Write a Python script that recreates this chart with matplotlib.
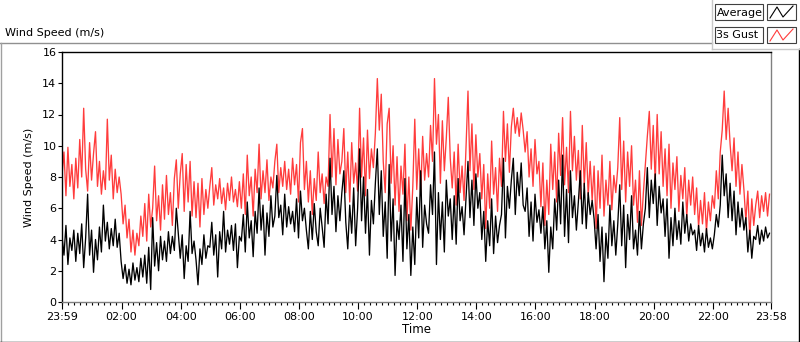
import numpy as np
import pandas as pd
import matplotlib
matplotlib.use("Agg")
import matplotlib.pyplot as plt
import matplotlib.dates as mdates
from matplotlib.patches import Rectangle
from matplotlib.lines import Line2D

# 3s gust (m/s), one reading every 4 minutes from 23:59
gust = [
    8.1, 9.6, 6.8, 9.9, 7.4, 8.8, 6.6,
    9.2, 7.3, 10.4, 8.0, 12.4, 8.5, 7.1, 10.2, 7.8, 9.5, 10.9, 7.4,
    9.0, 6.9, 8.4, 7.2, 11.7, 7.8, 9.4, 6.6, 8.5, 7.0, 8.0,
    6.9, 5.0, 6.2, 4.1, 5.3, 3.2, 4.6, 3.0, 4.4, 3.6, 5.5,
    4.2, 6.3, 3.9, 6.9, 4.8, 6.0,
    8.7, 5.2, 6.8, 4.6, 7.5, 5.3, 8.1, 5.6, 7.0, 4.9, 7.9, 9.1, 6.0,
    8.2, 9.5, 5.8, 8.8, 6.4, 9.0, 5.5, 7.7,
    5.4, 7.6, 4.8, 7.9, 5.6, 7.2, 6.0,
    7.4, 8.6, 6.2, 7.5, 6.6, 7.9, 6.3, 7.3, 5.9, 7.6, 6.5, 8.0, 6.4, 7.2, 6.1, 7.7,
    6.0, 8.2, 5.6, 9.4, 6.8, 8.0, 5.5, 8.5, 7.0, 10.1,
    6.6, 8.4, 7.0, 9.1, 6.5, 8.0, 7.3, 9.0, 10.1,
    7.0, 8.6, 7.4, 9.0, 7.2, 8.5, 6.9, 9.2,
    7.5, 8.8, 6.4, 10.2, 11.1, 7.2, 9.0,
    6.4, 8.4, 5.6, 7.9, 6.5, 9.6, 7.0, 8.2, 6.3, 8.0, 7.4,
    12.0, 8.0, 11.1, 7.5, 10.4, 8.2,
    9.0, 11.1, 7.0, 9.6, 6.4, 10.2, 7.6, 8.9,
    7.1, 12.4, 8.0, 10.5, 6.8, 11.0, 7.9, 9.8, 8.6,
    10.8, 14.3, 11.0, 13.3,
    9.0, 7.0, 11.4, 12.4, 7.6, 10.0, 6.2, 9.3,
    5.8, 8.7, 6.9, 10.1, 5.2, 8.0, 4.6, 7.4,
    11.7, 7.2, 9.8, 6.8, 10.6, 7.8, 9.5,
    8.0, 11.3, 9.0, 14.3, 10.1, 12.0, 7.6, 11.6, 8.4, 10.5, 13.1, 9.2,
    7.3, 9.6, 6.2, 10.1, 7.0, 8.7, 6.5,
    9.9, 13.5, 8.4, 11.4, 7.2, 10.7, 8.0, 9.5,
    6.6, 8.8, 4.7, 8.2, 6.0, 10.3, 6.9, 8.6, 5.8, 9.2,
    7.4, 12.2, 9.0, 11.4, 8.3,
    11.2, 12.4, 10.8, 11.8, 10.6, 12.1, 11.0,
    9.6, 10.9, 8.0, 9.8, 7.4, 10.4, 8.2, 9.0,
    6.1, 8.9, 4.9, 7.8, 5.6, 10.1,
    7.2, 9.6, 6.4, 10.8, 8.1, 11.8, 7.5, 9.9, 7.0, 12.2, 8.4, 10.6, 7.8,
    9.7, 6.6, 11.3, 7.4, 10.2, 6.8, 9.0, 6.5, 8.7,
    4.7, 8.4, 6.0, 9.4, 5.5, 7.8, 6.2, 9.0, 5.9, 8.1, 7.0,
    8.6, 11.8, 7.2, 10.3, 6.4, 9.6, 7.4, 10.0, 6.2,
    7.8, 5.1, 8.4, 4.9, 7.0,
    8.8, 10.6, 12.2, 8.5, 11.3, 7.6, 12.0, 8.2, 10.9, 7.4,
    9.8, 6.8, 10.1, 6.0, 8.9, 7.2, 9.3, 5.8, 8.1, 6.6, 8.6, 5.4, 7.8, 6.2, 8.0,
    5.6, 7.3, 4.8, 6.5, 5.0, 7.0, 4.5, 6.4, 5.2, 6.8,
    6.0, 8.4, 6.6, 9.6,
    11.0, 13.5, 10.4, 12.4, 10.1,
    8.4, 10.5, 7.4, 9.6, 6.9, 8.8, 7.2,
    5.2, 7.1, 4.1, 6.6, 4.9,
    6.2, 7.1, 5.4, 6.8, 5.8, 7.0, 5.5, 6.9,
]

# average wind speed (m/s), same timestamps
average = [
    4.2, 3.0, 4.9, 2.4, 4.1, 3.3, 4.6,
    2.6, 4.4, 3.1, 5.0, 2.2, 4.1, 6.9, 3.0, 4.6, 1.9, 4.0, 2.7,
    4.8, 3.2, 6.2, 3.9, 5.1, 3.4, 4.7, 3.6, 5.3, 3.5, 4.4,
    2.6, 1.5, 2.4, 1.2, 2.1, 1.1, 2.5, 1.4, 2.2, 1.3, 2.8,
    1.6, 3.0, 1.2, 3.5, 0.8, 5.4,
    2.3, 3.8, 2.0, 4.2, 2.7, 3.9, 2.6, 4.5, 3.1, 4.2, 3.3, 6.0, 4.4,
    2.8, 4.3, 1.5, 3.6, 2.6, 5.8, 3.1, 3.9,
    2.7, 1.1, 3.4, 2.4, 4.3, 2.8, 3.6,
    3.5, 5.1, 3.0, 4.3, 1.6, 4.5, 3.4, 5.8, 3.2, 4.6, 3.7, 4.9, 3.3, 5.0, 2.2, 4.2,
    3.9, 5.6, 3.2, 6.4, 4.1, 5.2, 2.9, 5.8, 4.4, 7.3,
    4.6, 6.2, 3.0, 5.7, 4.2, 6.8, 4.8, 5.5, 8.1,
    5.4, 6.2, 4.3, 6.9, 4.8, 6.1, 5.0, 5.8,
    4.5, 6.6, 4.1, 7.1, 5.2, 6.0, 4.6,
    3.4, 5.8, 4.0, 6.3, 4.5, 3.6, 6.0, 4.8, 3.5, 6.9, 5.0,
    9.2, 5.6, 7.4, 4.5, 6.8, 5.2,
    7.0, 8.4, 5.1, 3.4, 6.2, 4.4, 7.3, 3.6,
    6.0, 9.8, 5.2, 8.0, 4.4, 7.2, 3.0, 6.5, 5.0,
    7.6, 9.8, 5.6, 8.4,
    4.2, 6.4, 2.8, 8.8, 3.9, 6.6, 1.7, 5.2,
    4.0, 6.2, 2.6, 7.9, 3.4, 5.6, 1.7, 4.8,
    2.4, 6.7, 4.1, 8.4, 3.5, 6.2, 5.0,
    4.4, 7.5, 5.6, 9.6, 2.4, 7.0, 4.0, 6.4, 3.2, 7.8, 5.5, 6.6,
    4.0, 6.8, 3.7, 7.9, 5.2, 6.1, 4.3,
    6.6, 9.0, 5.4, 7.8, 4.9, 8.2, 6.0, 7.0,
    4.0, 5.8, 2.6, 5.2, 3.6, 6.6, 3.1, 5.5, 3.8, 4.9,
    5.6, 9.2, 4.1, 7.4, 6.0,
    7.8, 9.2, 5.6, 8.3, 6.8, 8.9, 6.2,
    5.8, 7.3, 4.2, 6.4, 3.9, 6.9, 5.1, 5.9,
    4.4, 6.1, 3.4, 5.2, 1.9, 4.8,
    3.4, 6.6, 4.6, 7.8, 5.0, 9.4, 4.2, 7.2, 3.8, 8.4, 5.4, 6.8, 4.6,
    6.4, 8.4, 5.0, 7.6, 4.7, 7.0, 5.6, 6.5, 5.3,
    3.4, 5.6, 2.6, 4.8, 1.3, 4.4, 2.8, 6.2, 3.6, 5.2, 3.0,
    5.0, 7.5, 3.6, 6.2, 2.2, 5.6, 4.0, 6.8, 3.4,
    4.6, 3.0, 5.8, 3.4, 5.0,
    6.0, 8.6, 5.4, 7.8, 6.3, 8.2, 4.9, 7.4, 5.7, 6.6,
    4.2, 6.6, 2.8, 5.4, 3.6, 6.0, 4.0, 5.2, 3.7, 6.4, 4.4, 5.6, 3.9, 5.0, 4.3,
    4.6, 3.3, 4.9, 3.6, 4.4, 3.2, 4.7, 3.5, 4.1, 3.4,
    4.3, 5.6, 4.8, 6.2,
    9.4, 6.8, 8.2, 5.4, 7.6,
    5.2, 7.1, 4.3, 6.4, 4.8, 6.0, 4.6,
    5.4, 3.2, 4.6, 2.8, 4.2,
    4.0, 4.9, 3.7, 4.6, 3.9, 4.8, 4.1, 4.4,
]

series_names = ["Average", "3s Gust"]
series_colors = ["black", "#ff3c3c"]

start = pd.Timestamp("2020-01-01 23:59")
end = pd.Timestamp("2020-01-02 23:58")
times = pd.date_range(start, periods=len(gust), freq="4min")

plt.rcParams['font.family'] = ['DejaVu Sans']
plt.rcParams['font.size'] = 8

fig = plt.figure(figsize=(8, 3.42), dpi=100)
ax = fig.add_axes([62 / 800, 40 / 342, 709 / 800, 250 / 342])

ax.plot(times, gust, color=series_colors[1], lw=0.95)
ax.plot(times, average, color=series_colors[0], lw=0.95)

ax.set_xlim(start, end)
ax.set_ylim(0, 16)
ax.set_yticks(range(0, 17, 2))

major = [start] + list(pd.date_range("2020-01-02 02:00", "2020-01-02 22:00", freq="2h")) + [end]
ax.set_xticks(major)
ax.xaxis.set_major_formatter(mdates.DateFormatter("%H:%M"))
ax.set_xticks(pd.date_range("2020-01-02 00:00", "2020-01-02 23:48", freq="12min"), minor=True)

ax.tick_params(axis='both', direction='out', colors='black', labelsize=8)
ax.tick_params(axis='x', which='major', length=5, width=0.8, pad=2)
ax.tick_params(axis='x', which='minor', length=2.5, width=0.8)
ax.tick_params(axis='y', length=3, width=0.8, pad=1)

for side in ['top', 'left']:
    ax.spines[side].set_color('black')
    ax.spines[side].set_linewidth(1)
for side in ['bottom', 'right']:
    ax.spines[side].set_color('#808080')
    ax.spines[side].set_linewidth(1)

ax.set_xlabel("Time", fontsize=8.5, labelpad=1)
ax.set_ylabel("Wind Speed (m/s)", fontsize=8, labelpad=6)

# panel title and frame
fig.text(5 / 800, 1 - 33 / 342, "Wind Speed (m/s)", fontsize=8, va='center', ha='left')
fig.add_artist(Line2D([0, 712 / 800], [1 - 43 / 342] * 2, color='#909090', lw=1))
fig.add_artist(Line2D([1 / 800, 1 / 800], [0, 1 - 43 / 342], color='#a0a0a0', lw=1))
fig.add_artist(Line2D([0, 1], [0.5 / 342, 0.5 / 342], color='black', lw=1))
fig.add_artist(Line2D([798.5 / 800, 798.5 / 800], [0, 1 - 49 / 342], color='black', lw=1))
fig.add_artist(Line2D([712 / 800, 712 / 800], [1 - 49 / 342, 1], color='#c8c8c8', lw=1))
fig.add_artist(Line2D([712 / 800, 1], [1 - 49 / 342] * 2, color='#c8c8c8', lw=1))

# plot legend boxes
for k, (name, col) in enumerate(zip(series_names, series_colors)):
    top = 4 + 23 * k
    fig.add_artist(Rectangle((715 / 800, 1 - (top + 16) / 342), 48 / 800, 16 / 342,
                             facecolor='white', edgecolor='#404040', lw=0.8))
    fig.text(716.5 / 800, 1 - (top + 8.5) / 342, name, fontsize=8, va='center', ha='left')
    fig.add_artist(Rectangle((767 / 800, 1 - (top + 16) / 342), 29 / 800, 16 / 342,
                             facecolor='white', edgecolor='#404040', lw=0.8))
    gx = [770, 777, 783, 793]
    gy = [top + 14, top + 3, top + 13, top + 2]
    fig.add_artist(Line2D([v / 800 for v in gx], [1 - v / 342 for v in gy], color=col, lw=0.8))

fig.savefig("out.png", dpi=100)
